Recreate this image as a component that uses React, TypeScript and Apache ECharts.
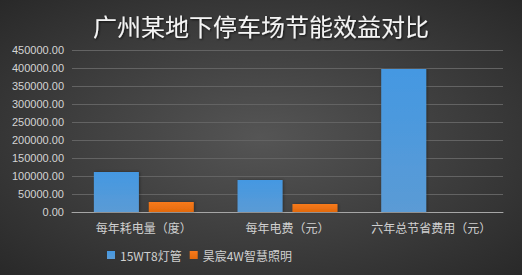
import React, { useEffect, useRef } from "react";
import * as echarts from "echarts";

const categories = ["每年耗电量（度）", "每年电费（元）", "六年总节省费用（元）"];
const seriesNames = ["15WT8灯管", "昊宸4W智慧照明"];
const t8Values = [111000, 88800, 397000];
const smartValues = [27800, 22200, 0];

export default function App() {
  const ref = useRef<HTMLDivElement>(null);
  useEffect(() => {
    const chart = echarts.init(ref.current!, null, { renderer: "svg" });
    chart.setOption({
      animation: false,
      backgroundColor: {
        type: "radial",
        x: 0.5,
        y: 0.5,
        r: 0.75,
        colorStops: [
          { offset: 0, color: "#555555" },
          { offset: 1, color: "#262626" },
        ],
      },
      title: {
        text: "广州某地下停车场节能效益对比",
        left: "center",
        top: 8,
        textStyle: {
          color: "#f4f4f4",
          fontSize: 24,
          fontWeight: "normal",
          fontFamily: "Noto Sans CJK SC",
          textShadowColor: "rgba(0,0,0,0.7)",
          textShadowBlur: 2,
          textShadowOffsetX: 1,
          textShadowOffsetY: 1,
        },
      },
      grid: { left: 72, right: 19, top: 50, bottom: 63, containLabel: false },
      legend: {
        data: seriesNames,
        left: 102,
        top: 244,
        itemWidth: 8,
        itemHeight: 8,
        itemGap: 8,
        icon: "rect",
        textStyle: { color: "#d0d0d0", fontSize: 12, fontFamily: "Noto Sans CJK SC" },
      },
      xAxis: {
        type: "category",
        data: categories,
        axisLine: { lineStyle: { color: "#a6a6a6", width: 1 } },
        axisTick: { show: false },
        axisLabel: { color: "#d0d0d0", fontSize: 12, margin: 9, interval: 0, fontFamily: "Noto Sans CJK SC" },
      },
      yAxis: {
        type: "value",
        min: 0,
        max: 450000,
        interval: 50000,
        axisLine: { show: false },
        axisTick: { show: false },
        splitLine: { lineStyle: { color: "#636363", width: 1 } },
        axisLabel: {
          color: "#d4d4d4",
          fontSize: 11,
          margin: 8,
          fontFamily: "Liberation Sans",
          formatter: (v: number) => v.toFixed(2),
        },
      },
      series: [
        {
          name: seriesNames[0],
          type: "bar",
          data: t8Values,
          barWidth: 45,
          barGap: "22%",
          itemStyle: {
            color: {
              type: "linear",
              x: 0, y: 0, x2: 0, y2: 1,
              colorStops: [
                { offset: 0, color: "#4498e2" },
                { offset: 1, color: "#5b9bd5" },
              ],
            },
            shadowColor: "rgba(0,0,0,0.35)",
            shadowBlur: 3,
            shadowOffsetX: 1,
          },
        },
        {
          name: seriesNames[1],
          type: "bar",
          data: smartValues,
          barWidth: 45,
          itemStyle: {
            color: {
              type: "linear",
              x: 0, y: 0, x2: 0, y2: 1,
              colorStops: [
                { offset: 0, color: "#f77a1c" },
                { offset: 1, color: "#e2690c" },
              ],
            },
            shadowColor: "rgba(0,0,0,0.35)",
            shadowBlur: 3,
            shadowOffsetX: 1,
          },
        },
      ],
    });
    return () => chart.dispose();
  }, []);
  return <div ref={ref} style={{ width: 522, height: 275, position: "absolute", left: 0, top: 0 }} />;
}
